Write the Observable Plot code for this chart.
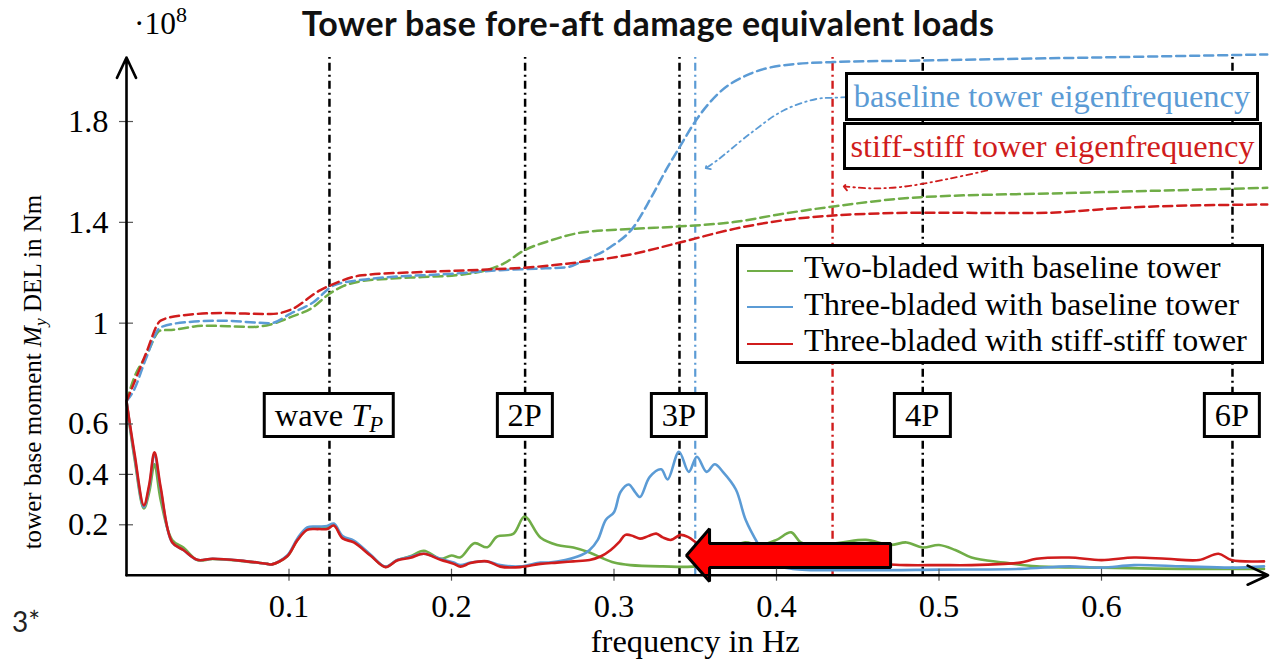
<!DOCTYPE html>
<html><head><meta charset="utf-8">
<script src="https://cdn.jsdelivr.net/npm/d3@7"></script>
<script src="https://cdn.jsdelivr.net/npm/@observablehq/plot@0.6"></script>
<style>
body{margin:0;background:#fff;}
#wrap{position:relative;width:1281px;height:660px;overflow:hidden;color:#000;}
#title{height:45px;text-align:center;font-family:Lato,sans-serif;font-weight:bold;font-size:34px;letter-spacing:0.4px;line-height:45px;color:#111;padding-left:15px;box-sizing:border-box;}
.ov{position:absolute;white-space:nowrap;}
.box{position:absolute;background:#fff;border:3px solid #000;box-sizing:border-box;display:flex;align-items:center;justify-content:center;white-space:nowrap;padding:0 9px;}
sub{font-size:70%;vertical-align:-0.28em;line-height:0;}
sup{font-size:70%;vertical-align:0.55em;line-height:0;}
#legend{position:absolute;background:#fff;border:3px solid #000;box-sizing:border-box;}
.lrow{position:absolute;left:0;height:36px;line-height:36px;white-space:nowrap;}
.lrow span.sw{display:inline-block;width:46px;height:0;border-top:2.5px solid;vertical-align:middle;margin:0 11px 0 8px;}
</style></head><body>
<div id="wrap"><div id="title">Tower base fore-aft damage equivalent loads</div><div id="chart"></div></div>
<script>
// ---------------- data ----------------
const series = ["Two-bladed with baseline tower", "Three-bladed with baseline tower", "Three-bladed with stiff-stiff tower"];
const colors = ["#70ad47", "#5b9bd5", "#d01c1c"];
const xTicks = [0.1, 0.2, 0.3, 0.4, 0.5, 0.6];
const yTicks = [0.2, 0.4, 0.6, 1, 1.4, 1.8];

// solid curves: [frequency Hz, DEL 1e8 Nm]
const twoSolid = [[0,0.69],[0.005,0.46],[0.0107,0.265],[0.014,0.33],[0.0172,0.44],[0.021,0.3],[0.0281,0.14],[0.035,0.11],[0.0435,0.06],[0.053,0.064],[0.07,0.057],[0.0866,0.045],[0.0895,0.043],[0.0989,0.075],[0.1051,0.14],[0.1112,0.183],[0.118,0.186],[0.1235,0.188],[0.1276,0.2],[0.133,0.15],[0.1399,0.133],[0.1501,0.08],[0.1594,0.033],[0.1665,0.06],[0.1747,0.075],[0.183,0.097],[0.1932,0.065],[0.2,0.078],[0.2055,0.071],[0.214,0.127],[0.222,0.111],[0.228,0.153],[0.238,0.164],[0.245,0.233],[0.2547,0.15],[0.265,0.12],[0.275,0.11],[0.285,0.09],[0.292,0.07],[0.30,0.05],[0.31,0.04],[0.33,0.035],[0.35,0.035],[0.36,0.05],[0.37,0.1],[0.38,0.13],[0.39,0.12],[0.40,0.14],[0.409,0.17],[0.415,0.13],[0.425,0.12],[0.44,0.13],[0.455,0.14],[0.47,0.12],[0.48,0.13],[0.49,0.11],[0.50,0.12],[0.51,0.1],[0.52,0.07],[0.54,0.05],[0.56,0.035],[0.6,0.03],[0.65,0.025],[0.7,0.025]];
const threeSolid = [[0,0.69],[0.005,0.47],[0.0107,0.27],[0.014,0.35],[0.0172,0.48],[0.021,0.34],[0.0281,0.13],[0.035,0.10],[0.0435,0.061],[0.053,0.065],[0.07,0.058],[0.0866,0.045],[0.0895,0.043],[0.0989,0.078],[0.1051,0.145],[0.1112,0.19],[0.118,0.193],[0.1235,0.195],[0.1276,0.205],[0.133,0.155],[0.1399,0.137],[0.1501,0.082],[0.1594,0.034],[0.1665,0.06],[0.1747,0.073],[0.183,0.085],[0.1932,0.065],[0.2014,0.05],[0.2055,0.04],[0.2117,0.05],[0.2219,0.055],[0.23,0.04],[0.2424,0.035],[0.2547,0.05],[0.26,0.05],[0.27,0.06],[0.28,0.08],[0.285,0.1],[0.29,0.14],[0.295,0.22],[0.30,0.25],[0.304,0.33],[0.309,0.36],[0.313,0.33],[0.316,0.31],[0.322,0.39],[0.329,0.42],[0.333,0.38],[0.34,0.49],[0.346,0.41],[0.351,0.47],[0.357,0.41],[0.362,0.44],[0.367,0.41],[0.375,0.34],[0.381,0.22],[0.389,0.12],[0.396,0.05],[0.41,0.025],[0.45,0.02],[0.5,0.022],[0.55,0.025],[0.58,0.035],[0.6,0.03],[0.62,0.04],[0.65,0.035],[0.68,0.03],[0.7,0.035]];
const stiffSolid = [[0,0.69],[0.005,0.48],[0.0107,0.277],[0.014,0.36],[0.0172,0.488],[0.021,0.35],[0.0281,0.131],[0.035,0.10],[0.0435,0.061],[0.053,0.065],[0.07,0.058],[0.0866,0.045],[0.0895,0.043],[0.0989,0.075],[0.1051,0.138],[0.1112,0.18],[0.118,0.183],[0.1235,0.183],[0.1276,0.197],[0.133,0.146],[0.1399,0.13],[0.1501,0.078],[0.1594,0.032],[0.1665,0.058],[0.1747,0.069],[0.183,0.085],[0.1932,0.061],[0.2014,0.045],[0.2055,0.034],[0.2117,0.048],[0.2219,0.055],[0.23,0.034],[0.2424,0.032],[0.2547,0.045],[0.265,0.05],[0.275,0.055],[0.285,0.06],[0.292,0.075],[0.298,0.10],[0.303,0.13],[0.307,0.16],[0.312,0.155],[0.316,0.145],[0.321,0.155],[0.326,0.165],[0.33,0.15],[0.335,0.14],[0.341,0.16],[0.346,0.15],[0.353,0.12],[0.36,0.11],[0.37,0.10],[0.38,0.085],[0.39,0.07],[0.40,0.06],[0.42,0.05],[0.44,0.045],[0.46,0.045],[0.48,0.04],[0.50,0.04],[0.52,0.04],[0.54,0.045],[0.55,0.05],[0.56,0.065],[0.58,0.07],[0.60,0.06],[0.62,0.07],[0.64,0.065],[0.66,0.06],[0.672,0.085],[0.68,0.06],[0.70,0.055]];

// dashed (cumulative) curves
const twoDashed = [[0,0.69],[0.0045,0.78],[0.012,0.87],[0.021,0.971],[0.029,0.974],[0.0476,0.99],[0.078,0.985],[0.0887,0.995],[0.101,1.024],[0.115,1.064],[0.1235,1.11],[0.132,1.143],[0.145,1.167],[0.161,1.176],[0.182,1.183],[0.2027,1.19],[0.219,1.206],[0.232,1.236],[0.2445,1.288],[0.261,1.328],[0.2814,1.361],[0.312,1.374],[0.3409,1.384],[0.3737,1.401],[0.404,1.434],[0.435,1.463],[0.489,1.5],[0.579,1.516],[0.702,1.537]];
const threeDashed = [[0,0.69],[0.0045,0.733],[0.012,0.86],[0.021,0.984],[0.0373,1.004],[0.0578,1.01],[0.0886,1.0],[0.101,1.038],[0.115,1.083],[0.1276,1.15],[0.145,1.172],[0.2027,1.197],[0.23,1.21],[0.2517,1.216],[0.271,1.222],[0.2814,1.249],[0.2978,1.302],[0.312,1.381],[0.323,1.5],[0.333,1.619],[0.341,1.705],[0.349,1.791],[0.364,1.91],[0.384,1.99],[0.404,2.023],[0.435,2.036],[0.489,2.042],[0.702,2.066]];
const stiffDashed = [[0,0.69],[0.0045,0.76],[0.012,0.88],[0.021,1.01],[0.0332,1.03],[0.0578,1.04],[0.0886,1.036],[0.101,1.053],[0.119,1.13],[0.1276,1.156],[0.145,1.19],[0.182,1.203],[0.219,1.212],[0.2547,1.225],[0.271,1.236],[0.312,1.275],[0.341,1.321],[0.374,1.374],[0.404,1.408],[0.435,1.427],[0.489,1.438],[0.558,1.437],[0.62,1.46],[0.702,1.471]];

// reference frequencies
const markerNames = ["wave T_P", "2P", "3P", "4P", "6P"];
const markerFreqs = [0.1249, 0.2453, 0.3403, 0.490, 0.6806];
const eigenNames = ["baseline tower eigenfrequency", "stiff-stiff tower eigenfrequency"];
const eigenFreqs = [0.350, 0.4345];

// annotation paths (data coordinates)
const blueNote = [[0.4435,1.897],[0.435,1.894],[0.425,1.89],[0.4043,1.844],[0.384,1.753],[0.3635,1.646],[0.3574,1.619]];
const redNote = [[0.5297,1.606],[0.507,1.574],[0.4763,1.54],[0.458,1.535],[0.4425,1.542]];
const bigArrow = [[0.3446,0.078],[0.3588,0.184],[0.3588,0.126],[0.4702,0.126],[0.4702,0.031],[0.3588,0.031],[0.3588,-0.025]];

// ---------------- fonts ----------------
function hasFont(name) {
  const c = document.createElement("canvas").getContext("2d");
  const s = "abcdefghijklmnopqrstuvwxyz ABCDEFGHIJ 0123456789";
  c.font = "40px monospace"; const a = c.measureText(s).width;
  c.font = `40px '${name}', monospace`; const b = c.measureText(s).width;
  return Math.abs(a - b) > 0.5;
}
const SERIF = ["Liberation Serif", "DejaVu Serif", "Noto Serif", "Times New Roman", "Tinos"].find(hasFont);
const FAM = SERIF ? `'${SERIF}', serif` : "serif";
const ctx = document.createElement("canvas").getContext("2d");
function fit(text, target, base) {
  ctx.font = `${base}px ${FAM}`;
  return base * target / ctx.measureText(text).width;
}
const FS = Math.max(20, Math.min(34, fit(series[2], 443, 31)));
const YFS = Math.max(18, Math.min(34, fit("tower base moment My DEL in Nm", 362, 31)));

// ---------------- build ----------------
const yMax = 2.054;
const rows = (arr, s) => arr.map(([f, v]) => ({f, v, s}));
const solid = [...rows(twoSolid, series[0]), ...rows(threeSolid, series[1]), ...rows(stiffSolid, series[2])];
const dashed = [...rows(twoDashed, series[0]), ...rows(threeDashed, series[1]), ...rows(stiffDashed, series[2])];
const dd = "8,4,2,4";

const chart = Plot.plot({
  width: 1281, height: 615,
  marginLeft: 126, marginRight: 17.5, marginTop: 12, marginBottom: 85.3,
  x: {domain: [0, 0.7], axis: null},
  y: {domain: [0, yMax], axis: null},
  color: {domain: series, range: colors},
  style: {fontFamily: FAM, background: "white", overflow: "visible", color: "black"},
  marks: [
    Plot.ruleX(markerFreqs, {x: d => d, y1: () => 0, y2: () => yMax, stroke: "#000", strokeWidth: 2.5, strokeDasharray: dd}),
    Plot.ruleX([eigenFreqs[0]], {x: d => d, y1: () => 0, y2: () => yMax, stroke: colors[1], strokeWidth: 2.2, strokeDasharray: dd}),
    Plot.ruleX([eigenFreqs[1]], {x: d => d, y1: () => 0, y2: () => yMax, stroke: colors[2], strokeWidth: 2.4, strokeDasharray: dd}),
    Plot.line(dashed, {x: "f", y: "v", z: "s", stroke: "s", strokeWidth: 2.5, strokeDasharray: "9,5", curve: "monotone-x"}),
    Plot.line(solid, {x: "f", y: "v", z: "s", stroke: "s", strokeWidth: 2.6, curve: "catmull-rom"}),
    Plot.line(blueNote, {x: d => d[0], y: d => d[1], stroke: colors[1], strokeWidth: 1.8, strokeDasharray: "6,4,1.5,4", curve: "catmull-rom", markerEnd: "arrow"}),
    Plot.line(redNote, {x: d => d[0], y: d => d[1], stroke: colors[2], strokeWidth: 1.8, strokeDasharray: "6,4,1.5,4", curve: "catmull-rom", markerEnd: "arrow"}),
    Plot.line(bigArrow, {x: d => d[0], y: d => d[1], fill: "#ff0000", stroke: "#000", strokeWidth: 3, curve: "linear-closed", strokeLinejoin: "miter"}),
    // axes
    Plot.ruleX(xTicks, {x: d => d, y1: () => 0, y2: () => 0, insetTop: -6, insetBottom: -6, stroke: "#555", strokeWidth: 1.2}),
    Plot.ruleY(yTicks, {y: d => d, x1: () => 0, x2: () => 0, insetLeft: -7, insetRight: -7, stroke: "#555", strokeWidth: 1.2}),
    Plot.arrow([0], {x1: () => 0, y1: () => 0, x2: () => 0.7025, y2: () => 0, stroke: "#000", strokeWidth: 2.6, headLength: 13, headAngle: 50}),
    Plot.arrow([0], {x1: () => 0, y1: () => 0, x2: () => 0, y2: () => yMax, stroke: "#000", strokeWidth: 2.6, headLength: 13, headAngle: 50}),
    Plot.text(xTicks, {x: d => d, y: () => 0, dy: 31, lineAnchor: "middle", text: d => String(d), fontSize: FS, fill: "#000"}),
    Plot.text(yTicks, {x: () => 0, y: d => d, dx: -18, textAnchor: "end", lineAnchor: "middle", text: d => String(d), fontSize: FS, fill: "#000"}),
    Plot.text(["frequency in Hz"], {frameAnchor: "bottom", lineAnchor: "middle", dy: 66, text: d => d, fontSize: FS, fill: "#000"})
  ]
});
document.getElementById("chart").appendChild(chart);

const wrap = document.getElementById("wrap");
wrap.style.fontFamily = FAM;
const TOP = 45;
const sx = chart.scale("x"), sy = chart.scale("y");
const X = f => sx.apply(f), Y = v => TOP + sy.apply(v);

function add(html, cls, css) {
  const d = document.createElement("div");
  d.className = cls; d.innerHTML = html;
  Object.assign(d.style, css);
  wrap.appendChild(d);
  return d;
}
// ·10^8
add("·10<sup>8</sup>", "ov", {left: "134px", top: "9px", fontSize: (FS - 1) + "px", lineHeight: "30px"});
// 3*
add("3*", "ov", {left: "12px", top: "606px", fontSize: "28px", lineHeight: "30px", fontFamily: "Lato, sans-serif", color: "#222"});
// y label
add("tower base moment <i>M</i><sub><i>y</i></sub> DEL in Nm", "ov", {left: "33px", top: "372px", fontSize: YFS + "px", lineHeight: YFS + "px", transform: "translate(-50%,-50%) rotate(-90deg)"});

// marker boxes
const markerHtml = n => n === "wave T_P" ? "<span>wave&nbsp;<i>T</i><sub><i>P</i></sub></span>" : `<span>${n}</span>`;
markerNames.forEach((n, i) => {
  add(markerHtml(n), "box", {left: X(markerFreqs[i]) + "px", top: Y(0.6334) + "px", height: "46px", fontSize: FS + "px", transform: "translate(-50%,-50%)"});
});
// eigenfrequency labels
add(`<span>${eigenNames[0]}</span>`, "box", {left: "845px", top: "72px", width: "414px", height: "49px", fontSize: FS + "px", color: colors[1]});
add(`<span>${eigenNames[1]}</span>`, "box", {left: "843px", top: "122px", width: "419px", height: "48px", fontSize: FS + "px", color: colors[2]});

// legend
const lg = add("", "", {});
lg.id = "legend";
Object.assign(lg.style, {left: "736px", top: "244px", width: "528px", height: "120px"});
series.forEach((s, i) => {
  const r = document.createElement("div");
  r.className = "lrow";
  r.style.top = (2 + i * 36.7) + "px";
  r.style.fontSize = FS + "px";
  r.innerHTML = `<span class="sw" style="border-color:${colors[i]}"></span>${s}`;
  lg.appendChild(r);
});
</script>
</body></html>
